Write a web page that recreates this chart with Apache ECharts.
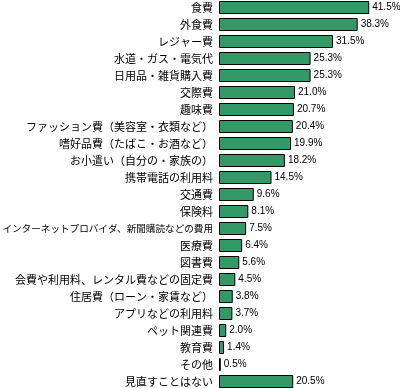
<!DOCTYPE html>
<html><head><meta charset="utf-8">
<script src="https://cdn.jsdelivr.net/npm/echarts@6/dist/echarts.min.js"></script>
<style>html,body{margin:0;padding:0;background:#fff}#c{width:400px;height:388px}</style>
</head><body><div id="c"></div>
<script>
const categories = ["食費","外食費","レジャー費","水道・ガス・電気代","日用品・雑貨購入費","交際費","趣味費","ファッション費（美容室・衣類など）","嗜好品費（たばこ・お酒など）","お小遣い（自分の・家族の）","携帯電話の利用料","交通費","保険料","インターネットプロバイダ、新聞購読などの費用","医療費","図書費","会費や利用料、レンタル費などの固定費","住居費（ローン・家賃など）","アプリなどの利用料","ペット関連費","教育費","その他","見直すことはない"];
const values = [41.5,38.3,31.5,25.3,25.3,21.0,20.7,20.4,19.9,18.2,14.5,9.6,8.1,7.5,6.4,5.6,4.5,3.8,3.7,2.0,1.4,0.5,20.5];
const FONT = '"Noto Sans CJK JP", sans-serif';
const chart = echarts.init(document.getElementById('c'));
chart.setOption({
  animation:false,
  grid:{left:219,right:0,top:-1,height:391,containLabel:false,outerBoundsMode:'none'},
  xAxis:{type:'value',min:0,max:50,show:false},
  yAxis:{type:'category',data:categories,inverse:true,
    axisLine:{show:false},axisTick:{show:false},
    axisLabel:{margin:6,fontSize:11,color:'#000',fontFamily:FONT,
      formatter:v=> v.length>20 ? '{s|'+v+'}' : v,
      rich:{s:{fontSize:9.6,color:'#000',fontFamily:FONT}}}},
  series:[{type:'bar',data:values,barWidth:13,
    itemStyle:{color:'#339966',borderColor:'#000',borderWidth:1},
    label:{show:true,position:'right',distance:3,fontSize:10,color:'#000',
      fontFamily:'"Liberation Sans Narrow", "Liberation Sans", sans-serif',
      formatter:p=>p.value.toFixed(1)+'%'}}]
});
</script></body></html>
